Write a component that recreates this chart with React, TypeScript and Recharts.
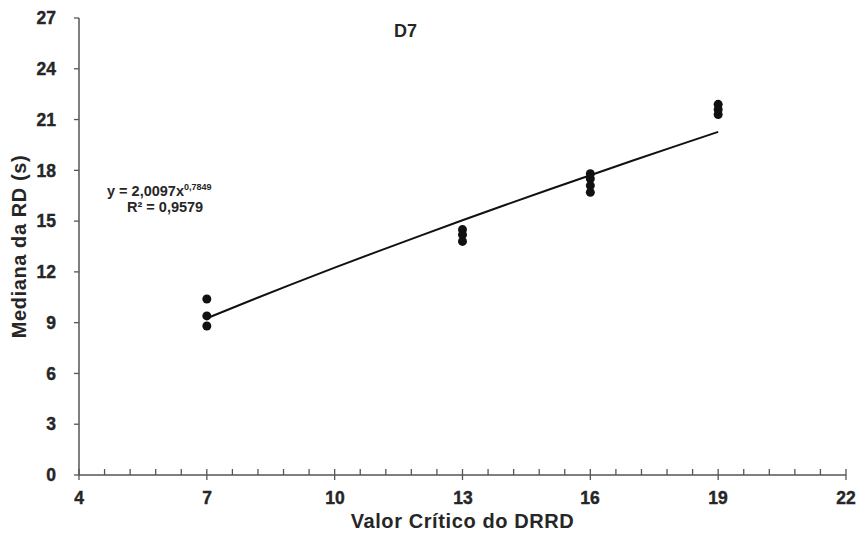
import { ScatterChart, Scatter, XAxis, YAxis, Label } from "recharts";

// medians per critical value
const critX = [7, 7, 7, 13, 13, 13, 16, 16, 16, 16, 19, 19, 19];
const medianY = [10.4, 9.4, 8.8, 14.5, 14.2, 13.8, 17.8, 17.5, 17.1, 16.7, 21.9, 21.6, 21.3];

// power fit y = 2,0097x^0,7849 evaluated at whole x
const fitX = [7, 8, 9, 10, 11, 12, 13, 14, 15, 16, 17, 18, 19];
const fitY = [9.26, 10.28, 11.28, 12.25, 13.2, 14.13, 15.05, 15.95, 16.84, 17.71, 18.58, 19.43, 20.27];

const xTicks = [4, 4.6, 5.2, 5.8, 6.4, 7, 7.6, 8.2, 8.8, 9.4, 10, 10.6, 11.2, 11.8, 12.4, 13, 13.6, 14.2, 14.8, 15.4, 16, 16.6, 17.2, 17.8, 18.4, 19, 19.6, 20.2, 20.8, 21.4, 22];
const yTicks = [0, 3, 6, 9, 12, 15, 18, 21, 24, 27];

const points = critX.map((x, i) => ({ x, y: medianY[i] }));
const fit = fitX.map((x, i) => ({ x, y: fitY[i] }));

const INK = "#262626";
const AXIS = "#555";
const FONT = "'Liberation Sans', Arial, sans-serif";

// major ticks every 3 (from 4) cross the axis and carry a label, minor ones point up
const XTick = (props: any) => {
  const { x, y, payload } = props;
  const v = Math.round(payload.value * 10) / 10;
  const r = (v - 4) % 3;
  const major = Math.abs(r) < 0.01 || Math.abs(r - 3) < 0.01;
  return (
    <g>
      <line x1={x} x2={x} y1={y - 6} y2={major ? y + 5 : y} stroke={AXIS} strokeWidth={1.3} />
      {major && (
        <text
          x={Math.round(x)}
          y={y + 29}
          textAnchor="middle"
          fill={INK}
          stroke={INK}
          strokeWidth={0.4}
          style={{ fontSize: 17.5, fontWeight: 700, fontFamily: FONT }}
        >
          {String(v)}
        </text>
      )}
    </g>
  );
};

const App = () => (
  <div style={{ position: "absolute", left: 0, top: 0, width: 858, height: 535, background: "#fff" }}>
    <ScatterChart width={858} height={535} margin={{ top: 18, right: 12, bottom: 18, left: 19 }}>
      <XAxis
        type="number"
        dataKey="x"
        domain={[4, 22]}
        ticks={xTicks}
        interval={0}
        tick={<XTick />}
        tickLine={false}
        tickSize={0}
        tickMargin={0}
        axisLine={{ stroke: AXIS, strokeWidth: 1.5 }}
        height={42}
      >
        <Label value="Valor Crítico do DRRD" position="insideBottom" offset={-11} fill={INK} fontSize={20} fontWeight="bold" fontFamily={FONT} letterSpacing={0.6} />
      </XAxis>
      <YAxis
        type="number"
        dataKey="y"
        domain={[0, 27]}
        ticks={yTicks}
        interval={0}
        width={60}
        tickSize={5}
        tickLine={{ stroke: AXIS, strokeWidth: 1.3 }}
        axisLine={{ stroke: AXIS, strokeWidth: 1.5 }}
        tick={{ fill: INK, stroke: INK, strokeWidth: 0.4, fontSize: 17.5, fontWeight: "bold", fontFamily: FONT }}
        tickMargin={18}
      >
        <Label value="Mediana da RD (s)" angle={-90} position="insideLeft" offset={0} fill={INK} fontSize={20} fontWeight="bold" fontFamily={FONT} letterSpacing={0.6} style={{ textAnchor: "middle" }} />
      </YAxis>
      <Scatter data={fit} line={{ stroke: "#111", strokeWidth: 2 }} lineType="joint" shape={() => null} isAnimationActive={false} />
      <Scatter data={points} fill="#111" shape={(p: any) => <circle cx={p.cx} cy={p.cy} r={4.5} fill="#111" />} isAnimationActive={false} />
    </ScatterChart>
    <div style={{ position: "absolute", left: 394, top: 21, fontFamily: FONT, fontWeight: "bold", fontSize: 18, color: INK }}>D7</div>
    <div style={{ position: "absolute", left: 107, top: 178, fontFamily: FONT, fontWeight: "bold", fontSize: 14.5, color: INK, whiteSpace: "nowrap", lineHeight: "18px" }}>
      y = 2,0097x<sup style={{ fontSize: 9 }}>0,7849</sup>
    </div>
    <div style={{ position: "absolute", left: 127, top: 198, fontFamily: FONT, fontWeight: "bold", fontSize: 14.5, color: INK, whiteSpace: "nowrap", lineHeight: "18px" }}>
      R² = 0,9579
    </div>
  </div>
);

export default App;
